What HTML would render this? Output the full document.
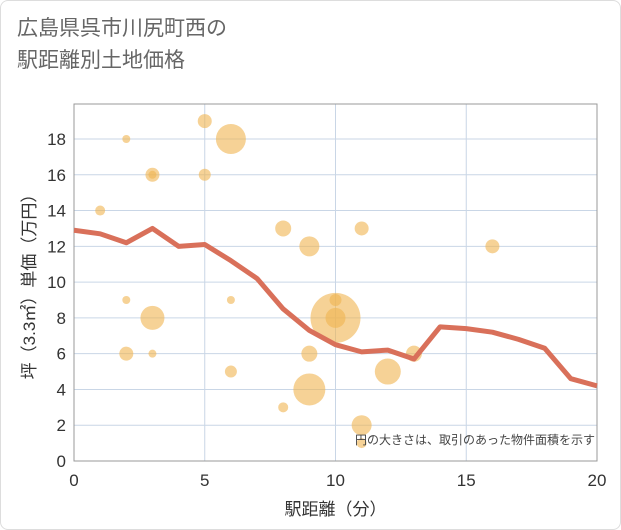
<!DOCTYPE html>
<html><head><meta charset="utf-8"><style>
body{margin:0;background:#fff;}
#wrap{position:relative;width:619px;height:528px;border:1px solid #ddd;border-radius:8px;overflow:hidden;font-family:"Liberation Sans","Noto Sans CJK JP",sans-serif;}
#title{position:absolute;left:16px;top:12px;font-size:21px;line-height:32px;color:#666;}
</style></head><body>
<div id="wrap">
<div id="title">広島県呉市川尻町西の<br>駅距離別土地価格</div>
<svg id="chart" width="621" height="530" style="position:absolute;left:0;top:0"></svg>
</div>
<script>
const xTicks=[0,5,10,15,20];
const yTicks=[0,2,4,6,8,10,12,14,16,18];
const bubbleX=[1,2,2,2,3,3,3,3,5,5,6,6,6,8,8,9,9,9,10,10,10,11,11,11,12,13,16];
const bubbleY=[14,18,9,6,16,16,8,6,19,16,18,9,5,13,3,12,6,4,8,9,8,13,2,1,5,6,12];
const bubbleR=[5,4,4,7,7,4,12,4,7,6,15,4,6,8,5,10,8,16,25,6,10,7,10,5,13,8,7];
const lineX=[0,1,2,3,4,5,6,7,8,9,10,11,12,13,14,15,16,17,18,19,20];
const lineY=[12.9,12.7,12.2,13.0,12.0,12.1,11.2,10.2,8.5,7.3,6.5,6.1,6.2,5.7,7.5,7.4,7.2,6.8,6.3,4.6,4.2];
const L=73,R=596,T=103,B=460;
const sx=v=>L+(R-L)*v/20;
const sy=v=>B-(B-138)*v/18;
const svg=document.getElementById('chart');const NS='http://www.w3.org/2000/svg';
function mk(t,a,p){const e=document.createElementNS(NS,t);for(const k in a)e.setAttribute(k,a[k]);(p||svg).appendChild(e);return e;}
const grid=mk('g',{});
xTicks.forEach(v=>{mk('line',{x1:sx(v),x2:sx(v),y1:T,y2:B,stroke:'#c9d6e6','stroke-width':1},grid);
 const t=mk('text',{x:sx(v),y:B+25,'text-anchor':'middle','font-size':17,fill:'#333'});t.textContent=v;
 });
yTicks.forEach(v=>{mk('line',{x1:L,x2:R,y1:sy(v),y2:sy(v),stroke:'#c9d6e6','stroke-width':1},grid);
 const t=mk('text',{x:L-8,y:sy(v)+6,'text-anchor':'end','font-size':17,fill:'#333'});t.textContent=v;
 });
mk('rect',{x:L,y:T,width:R-L,height:B-T,fill:'none',stroke:'#999','stroke-width':1});
const bg=mk('g',{});
bubbleX.forEach((x,i)=>{const c=mk('circle',{cx:sx(x),cy:sy(bubbleY[i]),r:bubbleR[i],fill:'rgba(240,180,80,0.6)'},bg);
 });
const pts=lineX.map((x,i)=>sx(x)+','+sy(lineY[i])).join(' ');
const pl=mk('polyline',{points:pts,fill:'none',stroke:'#d9705a','stroke-width':5,'stroke-linejoin':'round'});

const n=mk('text',{x:594,y:443,'text-anchor':'end','font-size':12,fill:'#444'});n.textContent='円の大きさは、取引のあった物件面積を示す';

const xt=mk('text',{x:(L+R)/2,y:514,'text-anchor':'middle','font-size':17,fill:'#333'});xt.textContent='駅距離（分）';

const yt=mk('text',{x:0,y:0,'text-anchor':'middle','font-size':17,fill:'#333',transform:'translate(34,'+((T+B)/2)+') rotate(-90)'});yt.textContent='坪（3.3㎡）単価（万円）';

</script>
</body></html>
